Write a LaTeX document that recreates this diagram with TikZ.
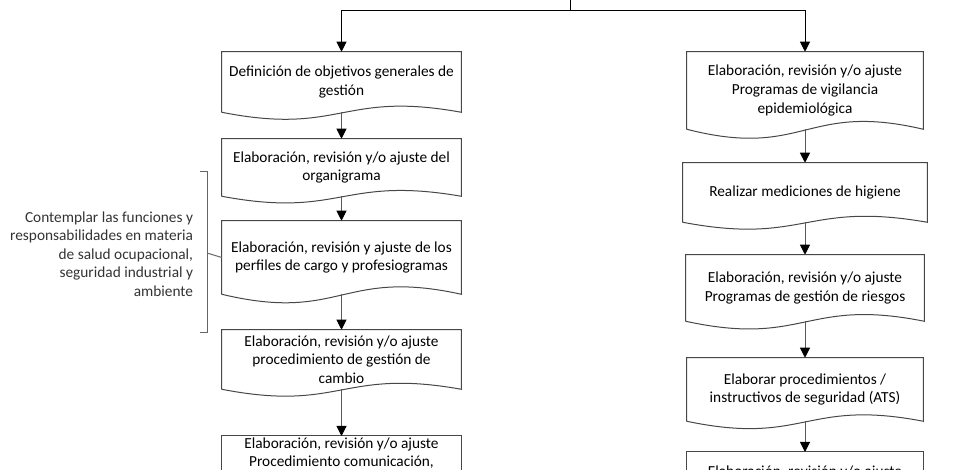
\documentclass[tikz,border=0pt]{standalone}
\usepackage{fontspec}
\setmainfont{Carlito}
\usetikzlibrary{arrows.meta, calc}

\begin{document}
\begin{tikzpicture}[
    x=0.75pt, y=-0.75pt,
    every node/.style={font=\fontsize{11.5pt}{13.9pt}\selectfont, inner sep=2pt},
    docbox/.style={rectangle, align=center, minimum width=179.25pt},
    borde/.style={draw=black!72, line width=0.75pt},
    flecha/.style={draw=black!65, line width=0.75pt, -{Triangle[width=7.5pt, length=7.5pt, color=black]}}
]
\useasboundingbox (0,0) rectangle (958,470);
\clip (0,0) rectangle (958,470);

% columna izquierda
\node[docbox, minimum height=45pt] (objetivos) at (341.5,82) {Definición de objetivos generales de\\ gestión};
\node[docbox, minimum height=42.75pt] (organigrama) at (341.5,167.5) {Elaboración, revisión y/o ajuste del\\ organigrama};
\node[docbox, minimum height=54.75pt] (perfiles) at (341.5,257.5) {Elaboración, revisión y ajuste de los\\ perfiles de cargo y profesiogramas};
\node[docbox, minimum height=44.25pt] (cambio) at (341.5,359.5) {Elaboración, revisión y/o ajuste\\ procedimiento de gestión de\\ cambio};
\node[docbox, anchor=north, inner ysep=1pt] (comunicacion) at (341.5,436) {Elaboración, revisión y/o ajuste\\ Procedimiento comunicación,};

% columna derecha
\node[docbox, minimum width=177pt, minimum height=57.75pt] (vigilancia) at (805,90.5) {Elaboración, revisión y/o ajuste\\ Programas de vigilancia\\ epidemiológica};
\node[docbox, minimum width=183pt, minimum height=44.25pt] (higiene) at (805,192.5) {Realizar mediciones de higiene};
\node[docbox, minimum width=178.5pt, minimum height=49.5pt] (riesgos) at (805,288) {Elaboración, revisión y/o ajuste\\ Programas de gestión de riesgos};
\node[docbox, minimum width=177pt, minimum height=47.25pt] (ats) at (805,389.5) {Elaborar procedimientos /\\ instructivos de seguridad (ATS)};
\node[docbox, minimum width=177pt, anchor=north, inner ysep=10.5pt] (seguimiento) at (805,452) {Elaboración, revisión y/o ajuste};

\foreach \n in {objetivos, organigrama, perfiles, cambio, vigilancia, higiene, riesgos, ats}
    \draw[borde] (\n.south west) -- (\n.north west) -- (\n.north east) -- (\n.south east)
        .. controls ($(\n.south)!0.36!(\n.north)$) and ($(\n.south)!-0.39!(\n.north)$) .. (\n.south west);

\foreach \n in {comunicacion, seguimiento}
    \draw[borde] ([yshift=-60pt]\n.north west) -- (\n.north west) -- (\n.north east) -- ([yshift=-60pt]\n.north east);

% reparto superior
\coordinate (inicio) at (570,-10);
\coordinate (reparto) at (570,11);
\draw[line width=0.75pt] (inicio) -- (reparto);
\draw[flecha, draw=black] (reparto) -| (objetivos);
\draw[flecha, draw=black] (reparto) -| (vigilancia);

\draw[flecha] (objetivos.south) -- (organigrama.north);
\draw[flecha] (organigrama.south) -- (perfiles.north);
\draw[flecha] (perfiles.south) -- (cambio.north);
\draw[flecha] (cambio.south) -- (comunicacion.north);

\draw[flecha] (vigilancia.south) -- (higiene.north);
\draw[flecha] (higiene.south) -- (riesgos.north);
\draw[flecha] (riesgos.south) -- (ats.north);
\draw[flecha] (ats.south) -- (seguimiento.north);

% nota con llave
\node[align=right, anchor=east, text=black!80] (nota) at (196,254) {Contemplar las funciones y\\ responsabilidades en materia\\ de salud ocupacional,\\ seguridad industrial y\\ ambiente};
\coordinate (llave) at (207,253);
\draw[draw=black!60, line width=0.75pt] (200,172) -- (207,172) -- (207,333) -- (200,333);
\draw[draw=black!60, line width=0.75pt] (llave) -- (perfiles.west);

\end{tikzpicture}
\end{document}
